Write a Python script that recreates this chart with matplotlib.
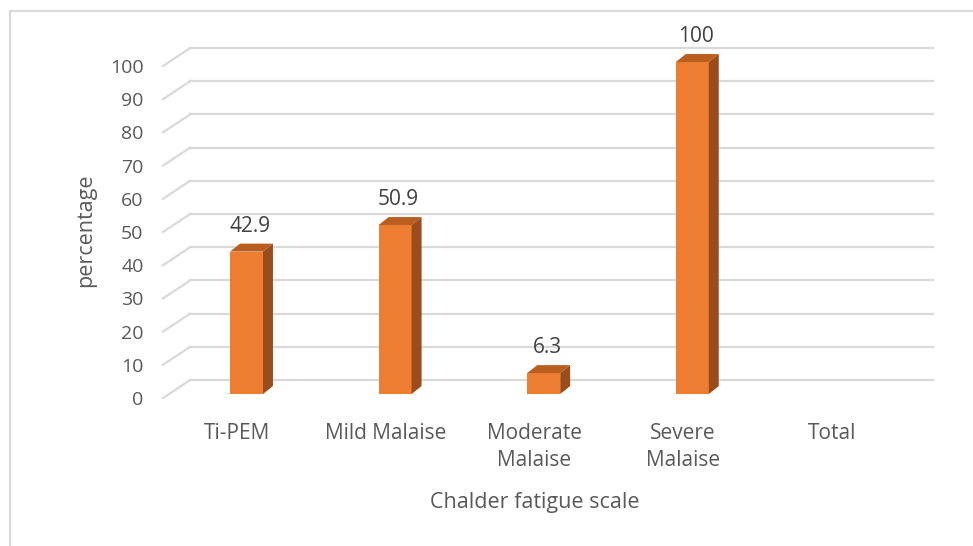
import matplotlib
matplotlib.use('Agg')
import matplotlib.pyplot as plt
from matplotlib.patches import Polygon
from matplotlib.lines import Line2D

categories = ['Ti-PEM', 'Mild Malaise', 'Moderate\nMalaise', 'Severe\nMalaise', 'Total']
values = [42.9, 50.9, 6.3, 100, None]
yticks = list(range(0, 101, 10))

plt.rcParams['font.family'] = ['Open Sans', 'DejaVu Sans']
text_col = '#595959'
grid_col = '#d9d9d9'
front_col = '#ed7d31'
top_col = '#b95e1f'
side_col = '#9b4c1b'

fig = plt.figure(figsize=(9.73, 5.46), dpi=100)
# axes = front plane of the 3d box
ax = fig.add_axes([163/973, 148/546, 743/973, 332/546])
ax.set_xlim(-0.5, len(categories) - 0.5)
ax.set_ylim(0, 100)
for s in ax.spines.values():
    s.set_visible(False)

# depth of the box (data units)
DX, DY = 0.182, 5.4
# bar geometry
bw = 0.222
bx_off, by_off = 0.062, 1.2
sdx, sdy = 0.067, 2.4

# back wall gridlines + floor/wall diagonals
x0, x1 = -0.5, len(categories) - 0.5
for v in yticks:
    ax.plot([x0 + DX, x1 + DX], [v + DY, v + DY], color=grid_col, lw=1.6,
            clip_on=False, zorder=1)
    ax.plot([x0, x0 + DX], [v, v + DY], color=grid_col, lw=1.6,
            clip_on=False, zorder=1)

for i, v in enumerate(values):
    if v is None:
        continue
    l = i + bx_off - bw / 2
    r = l + bw
    b = by_off
    t = v + by_off
    ax.add_patch(Polygon([(l, b), (r, b), (r, t), (l, t)], closed=True,
                         facecolor=front_col, edgecolor='none', zorder=3, clip_on=False))
    ax.add_patch(Polygon([(l, t), (r, t), (r + sdx, t + sdy), (l + sdx, t + sdy)],
                         closed=True, facecolor=top_col, edgecolor='none', zorder=3,
                         clip_on=False))
    ax.add_patch(Polygon([(r, b), (r + sdx, b + sdy), (r + sdx, t + sdy), (r, t)],
                         closed=True, facecolor=side_col, edgecolor='none', zorder=3,
                         clip_on=False))
    ax.text(i + bx_off + sdx / 2 - 0.01, t + sdy + 2.0, f'{v:g}', ha='center', va='bottom',
            fontsize=15, color='#404040', clip_on=False)

ax.set_yticks(yticks)
ax.set_yticklabels([str(t) for t in yticks], fontsize=14, color=text_col)
ax.tick_params(axis='y', length=0, pad=14)
ax.set_xticks(range(len(categories)))
ax.set_xticklabels(categories, fontsize=15, color=text_col, linespacing=1.35)
ax.tick_params(axis='x', length=0, pad=18)

ax.set_ylabel('percentage', fontsize=15.5, color=text_col)
ax.yaxis.set_label_coords(-0.09, 0.505)
ax.set_xlabel('Chalder fatigue scale', fontsize=15.5, color=text_col)
ax.xaxis.set_label_coords(0.5, -0.283)

# chart border (top and left visible)
fig.add_artist(Line2D([10/973, 1], [1 - 11/546, 1 - 11/546], color=grid_col, lw=1.5))
fig.add_artist(Line2D([10/973, 10/973], [0, 1 - 11/546], color=grid_col, lw=1.5))

fig.savefig('out.png', dpi=100)
